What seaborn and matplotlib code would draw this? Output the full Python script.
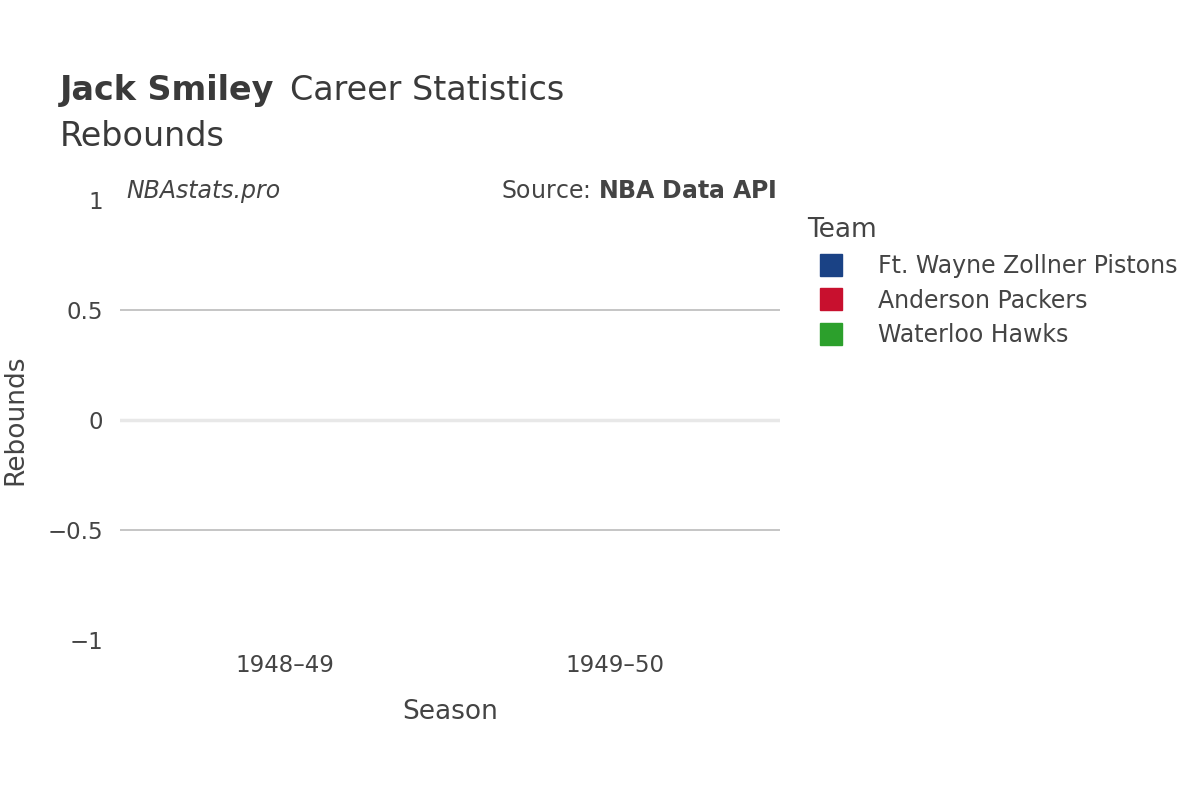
import matplotlib.pyplot as plt
import seaborn as sb
import pandas as pd
from matplotlib.lines import Line2D

seasons = ["1948–49", "1949–50", "1949–50"]
teams = ["Ft. Wayne Zollner Pistons", "Anderson Packers", "Waterloo Hawks"]
rebounds = [0, 0, 0]
team_colors = ["#1a4285", "#c8102e", "#2ca02c"]
season_order = ["1948–49", "1949–50"]

df = pd.DataFrame({"Season": seasons, "Team": teams, "Rebounds": rebounds})

fig = plt.figure(figsize=(12, 8), dpi=100)
ax = fig.add_axes([0.1, 0.2, 0.55, 0.55])
sb.barplot(data=df, x="Season", y="Rebounds", hue="Team", order=season_order,
           hue_order=teams, palette=team_colors, ax=ax, legend=False)

ax.set_ylim(-1, 1)
ax.set_yticks([-1, -0.5, 0, 0.5, 1])
ax.set_yticklabels(["−1", "−0.5", "0", "0.5", "1"])
for y in [-0.5, 0.5]:
    ax.axhline(y, color="#bbbbbb", lw=1.2, zorder=0)
ax.axhline(0, color="#e8e8e8", lw=2.5, zorder=0)
for s in ax.spines.values():
    s.set_visible(False)
ax.tick_params(length=0, labelsize=16.5, colors="#444444", pad=12)
ax.tick_params(axis="x", pad=10)
ax.set_xlabel("Season", fontsize=19, color="#444444", labelpad=16)
ax.set_ylabel("Rebounds", fontsize=19, color="#444444", labelpad=14)

fig.text(0.05, 0.875, "Jack Smiley", fontsize=24, fontweight="bold", color="#3a3a3a")
fig.text(0.2415, 0.875, "Career Statistics", fontsize=24, color="#3a3a3a")
fig.text(0.05, 0.818, "Rebounds", fontsize=24, color="#3a3a3a")
fig.text(0.105, 0.752, "NBAstats.pro", fontsize=17, style="italic", color="#444444")
fig.text(0.647, 0.752, "Source: $\\bf{NBA\\ Data\\ API}$", fontsize=17, color="#444444", ha="right")

handles = [Line2D([0], [0], marker="s", ls="", markersize=16, color=c) for c in team_colors]
leg = fig.legend(handles, teams, title="Team", loc="upper left", bbox_to_anchor=(0.655, 0.755),
                 frameon=False, fontsize=17, title_fontsize=19, labelcolor="#444444",
                 alignment="left", handletextpad=1.0, labelspacing=0.45)
leg.get_title().set_color("#444444")
fig.savefig("out.png", dpi=100)
